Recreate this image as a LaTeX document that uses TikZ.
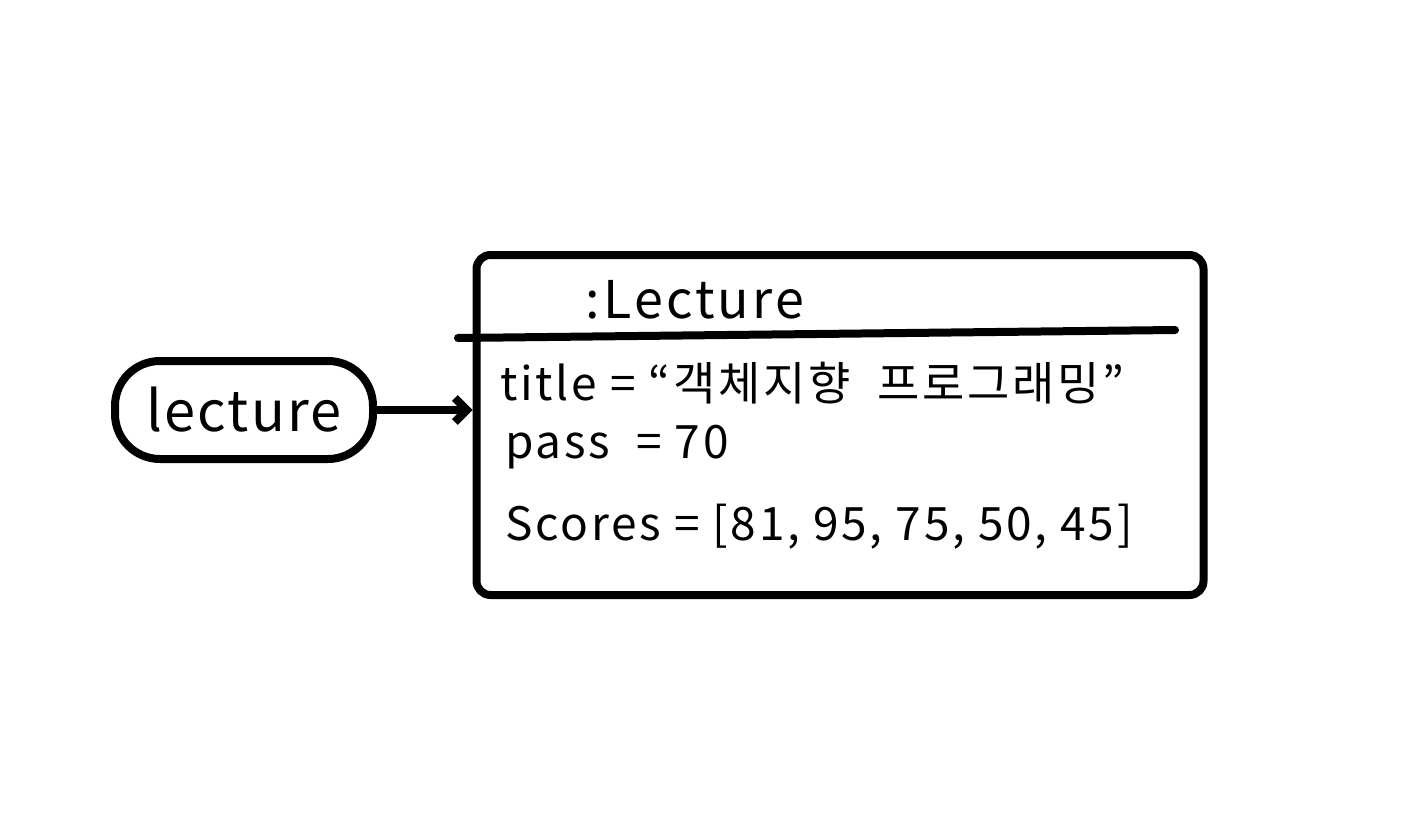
\documentclass[tikz,border=0pt]{standalone}
\usepackage{fontspec}
\setmainfont{Noto Sans CJK KR}
\usetikzlibrary{arrows.meta}
\tikzset{
  ink/.style={line width=8pt, line cap=round, line join=round, black},
  txt/.style={font=\fontsize{46}{54}\selectfont\addfontfeature{LetterSpace=6}, inner sep=0pt, anchor=base west},
}
\begin{document}
\begin{tikzpicture}[x=1pt,y=-1pt]
\useasboundingbox (0,0) rectangle (1413,840);
% object box
\node[ink, draw, rounded corners=14pt, minimum width=727pt, minimum height=340pt, inner sep=0pt] (obj) at (840,425) {};
\draw[ink] (458,338) -- (1175,330);
\node[font=\fontsize{52}{60}\selectfont\addfontfeature{LetterSpace=6}, inner sep=0pt, anchor=base] (cls) at (695,318) {:Lecture};
\node[txt] (t1) at (500,400) {title = “객체지향~~프로그래밍”};
\node[txt] (t2) at (505,458) {pass~~=~70};
\node[txt] (t3) at (505,540) {Scores = [81, 95, 75, 50, 45]};
% reference
\node[ink, draw, rounded corners=45pt, minimum width=258pt, minimum height=98pt, font=\fontsize{56}{62}\selectfont\addfontfeature{LetterSpace=4}] (lec) at (244,410) {lecture};
\draw[ink, -{Straight Barb[length=12pt,width=24pt]}] (lec.east) -- (obj.west |- lec.east);
\end{tikzpicture}
\end{document}
